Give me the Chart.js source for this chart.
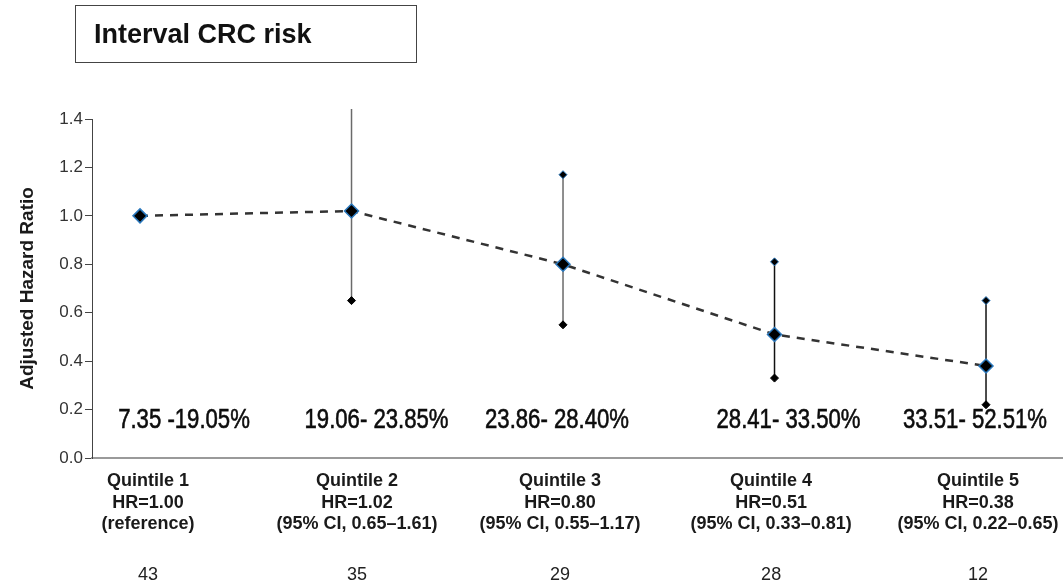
<!DOCTYPE html>
<html>
<head>
<meta charset="utf-8">
<script src="https://cdn.jsdelivr.net/npm/chart.js@4.4.1/dist/chart.umd.min.js"></script>
<style>
  body { margin: 0; background: #fff; }
  #wrap { position: relative; width: 1063px; height: 585px; }
  #titleBox {
    position: absolute; left: 75px; top: 5px; width: 340px; height: 56px;
    border: 1.5px solid #444; box-sizing: content-box;
    font: bold 27px "Liberation Sans", Arial, sans-serif; color: #111;
    line-height: 56px; text-indent: 18px;
  }
</style>
</head>
<body>
<div id="wrap">
  <canvas id="hrChart" width="1063" height="585"></canvas>
  <div id="titleBox">Interval CRC risk</div>
</div>
<script>
// data
var quintiles = ['Quintile 1', 'Quintile 2', 'Quintile 3', 'Quintile 4', 'Quintile 5'];
var hrLabels = ['HR=1.00', 'HR=1.02', 'HR=0.80', 'HR=0.51', 'HR=0.38'];
var ciLabels = ['(reference)', '(95% CI, 0.65\u20131.61)', '(95% CI, 0.55\u20131.17)', '(95% CI, 0.33\u20130.81)', '(95% CI, 0.22\u20130.65)'];
var hazardRatio = [1.00, 1.02, 0.80, 0.51, 0.38];
var ciLower = [null, 0.65, 0.55, 0.33, 0.22];
var ciUpper = [null, 1.61, 1.17, 0.81, 0.65];
var eventCounts = [43, 35, 29, 28, 12];
var rangeLabels = ['7.35 -19.05%', '19.06- 23.85%', '23.86- 28.40%', '28.41- 33.50%', '33.51- 52.51%'];
var yTicks = [0, 0.2, 0.4, 0.6, 0.8, 1.0, 1.2, 1.4];

var blueEdge = '#2a78bd';
var barColors = ['#111', '#6a6a6a', '#6a6a6a', '#111', '#111'];

var datasets = [{
    label: 'HR',
    data: hazardRatio.map(function(v, i){ return {x: i + 1, y: v}; }),
    borderColor: '#333',
    borderWidth: 2.5,
    borderDash: [8, 7],
    pointStyle: 'rectRot',
    pointRadius: 7,
    pointBackgroundColor: '#000',
    pointBorderColor: blueEdge,
    pointBorderWidth: 1.5,
    order: 0
}];

// one small dataset per confidence interval
ciLower.forEach(function(lo, i){
    if (lo === null) return;
    datasets.push({
        label: 'CI ' + quintiles[i],
        data: [{x: i + 1, y: lo}, {x: i + 1, y: ciUpper[i]}],
        borderColor: barColors[i],
        borderWidth: 1.5,
        pointStyle: 'rectRot',
        pointRadius: 4,
        pointBackgroundColor: '#000',
        pointBorderColor: ['#000', blueEdge],
        pointBorderWidth: 1,
        clip: {left: 0, top: 10, right: 0, bottom: 0},
        order: 1
    });
});

// small nudges so the label blocks sit where the figure has them
var labelNudge = [0.038, 0.026, -0.014, -0.016, -0.038];

var textPlugin = {
    id: 'extraText',
    afterDatasetsDraw: function(chart, args, opts) {
        var ctx = chart.ctx;
        var xs = chart.scales.x, ys = chart.scales.y;
        ctx.save();
        ctx.fillStyle = '#0d0d0d';
        ctx.strokeStyle = '#0d0d0d';
        ctx.lineWidth = 0.6;
        ctx.textAlign = 'center';
        ctx.textBaseline = 'middle';
        ctx.font = '27px "Liberation Sans", Arial, sans-serif';
        rangeLabels.forEach(function(t, i){
            var cx = xs.getPixelForValue(i + 1) + opts.rangeShift[i];
            var cy = ys.getPixelForValue(0.155);
            ctx.save();
            ctx.translate(cx, cy);
            ctx.scale(0.82, 1);
            ctx.fillText(t, 0, 0);
            ctx.strokeText(t, 0, 0);
            ctx.restore();
        });
        ctx.font = '18px "Liberation Sans", Arial, sans-serif';
        ctx.fillStyle = '#222';
        eventCounts.forEach(function(n, i){
            ctx.fillText(String(n), xs.getPixelForValue(i + 1 + labelNudge[i]), opts.countY);
        });
        ctx.restore();
    }
};

var ctx = document.getElementById('hrChart').getContext('2d');
var hrChart = new Chart(ctx, {
    type: 'line',
    data: { datasets: datasets },
    plugins: [textPlugin],
    options: {
        responsive: false,
        animation: false,
        layout: { autoPadding: false, padding: { top: 119, left: 0, right: 0, bottom: 0 } },
        plugins: {
            legend: { display: false },
            tooltip: { enabled: false },
            extraText: { rangeShift: [44, 25, -6, 14, -11], countY: 575 }
        },
        scales: {
            x: {
                type: 'linear',
                min: 0.773,
                max: 5.364,
                grid: { drawOnChartArea: false, drawTicks: false },
                border: { color: '#9a9a9a', width: 2 },
                afterBuildTicks: function(scale){
                    scale.ticks = quintiles.map(function(q, i){ return {value: i + 1 + labelNudge[i]}; });
                },
                afterFit: function(scale){
                    scale.height = 127;
                    scale.paddingLeft = 0;
                    scale.paddingRight = 0;
                },
                ticks: {
                    autoSkip: false,
                    maxRotation: 0,
                    padding: 13,
                    color: '#1a1a1a',
                    font: { family: '"Liberation Sans", Arial, sans-serif', size: 18, weight: 'bold', lineHeight: 1.17 },
                    callback: function(v, i){
                        return [quintiles[i], hrLabels[i], ciLabels[i]];
                    }
                }
            },
            y: {
                min: 0,
                max: 1.4,
                grid: { drawOnChartArea: false, drawTicks: true, tickLength: 7, color: '#444' },
                border: { color: '#444', width: 1 },
                afterBuildTicks: function(scale){
                    scale.ticks = yTicks.map(function(v){ return {value: v}; });
                },
                afterFit: function(scale){ scale.width = 92; },
                ticks: {
                    padding: 2,
                    color: '#333',
                    font: { family: '"Liberation Sans", Arial, sans-serif', size: 17 },
                    callback: function(v){ return v.toFixed(1); }
                },
                title: {
                    display: true,
                    text: 'Adjusted Hazard Ratio',
                    color: '#1a1a1a',
                    padding: { top: 16, bottom: 0 },
                    font: { family: '"Liberation Sans", Arial, sans-serif', size: 19, weight: 'bold' }
                }
            }
        }
    }
});
</script>
</body>
</html>
